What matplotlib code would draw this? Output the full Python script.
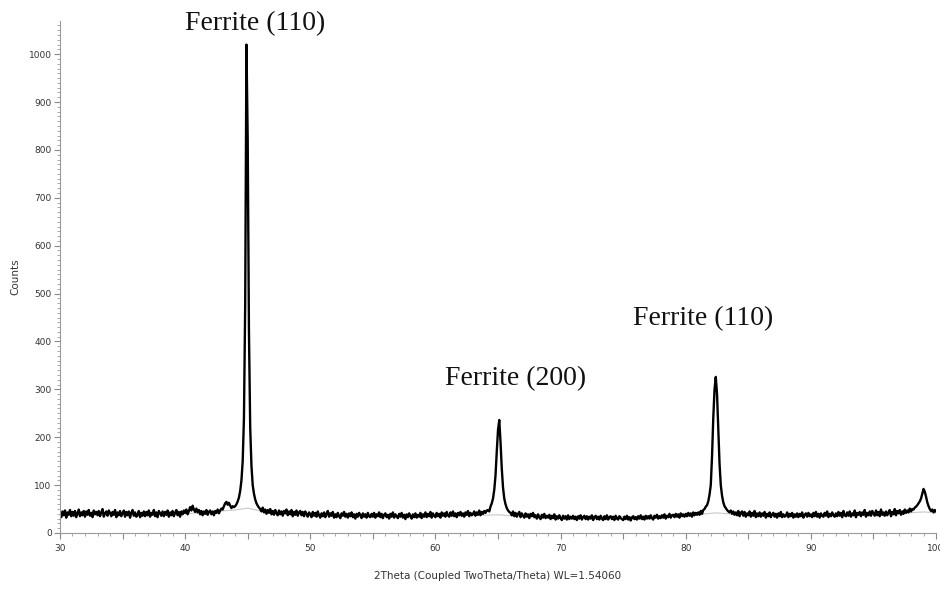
import numpy as np
import matplotlib
matplotlib.use("Agg")
import matplotlib.pyplot as plt
from matplotlib.ticker import MultipleLocator, FuncFormatter

# ---- data (2theta sampled every 0.1 deg, one row per degree) ----
two_theta_start = 30.0
two_theta_step = 0.1
counts = [
    41, 33, 45, 37, 47, 32, 43, 38, 48, 35,   # 30
    44, 36, 46, 33, 41, 49, 35, 43, 37, 46,   # 31
    34, 45, 38, 48, 36, 42, 33, 47, 39, 44,   # 32
    37, 46, 35, 43, 50, 34, 41, 45, 36, 47,   # 33
    42, 35, 44, 38, 48, 33, 43, 37, 46, 35,   # 34
    41, 47, 34, 44, 37, 45, 32, 42, 48, 36,   # 35
    43, 34, 38, 46, 33, 42, 36, 45, 35, 44,   # 36
    37, 47, 34, 42, 38, 48, 35, 43, 33, 46,   # 37
    41, 36, 45, 35, 44, 38, 47, 34, 43, 37,   # 38
    46, 35, 42, 48, 37, 44, 34, 45, 39, 47,   # 39
    42, 49, 39, 46, 54, 47, 57, 49, 44, 51,   # 40
    43, 48, 39, 46, 37, 45, 40, 48, 38, 44,   # 41
    47, 39, 45, 37, 46, 42, 49, 41, 47, 51,   # 42
    49, 56, 62, 65, 59, 63, 57, 52, 56, 54,   # 43
    56, 60, 66, 74, 88, 110, 150, 240, 480, 1020,   # 44
    820, 420, 220, 140, 100, 82, 70, 62, 57, 53,    # 45
    50, 45, 53, 43, 49, 40, 48, 42, 50, 39,   # 46
    46, 38, 48, 41, 37, 47, 39, 45, 36, 46,   # 47
    41, 49, 37, 45, 39, 48, 35, 44, 38, 47,   # 48
    36, 43, 46, 37, 44, 35, 45, 39, 34, 43,   # 49
    39, 33, 44, 36, 42, 34, 45, 37, 32, 41,   # 50
    35, 43, 33, 40, 46, 34, 41, 36, 44, 32,   # 51
    39, 33, 42, 35, 31, 41, 36, 44, 34, 40,   # 52
    32, 41, 35, 43, 33, 39, 30, 40, 34, 42,   # 53
    37, 31, 41, 34, 39, 32, 42, 35, 33, 40,   # 54
    34, 42, 32, 39, 35, 43, 33, 40, 31, 38,   # 55
    41, 33, 38, 30, 40, 34, 43, 32, 39, 35,   # 56
    31, 40, 34, 42, 32, 38, 29, 39, 33, 41,   # 57
    35, 30, 39, 33, 41, 32, 38, 34, 42, 31,   # 58
    39, 34, 43, 33, 40, 35, 44, 32, 41, 36,   # 59
    33, 42, 35, 40, 32, 43, 36, 41, 34, 44,   # 60
    37, 34, 43, 36, 45, 35, 41, 33, 42, 37,   # 61
    44, 36, 41, 34, 43, 38, 46, 35, 42, 37,   # 62
    40, 45, 36, 43, 38, 47, 37, 44, 40, 46,   # 63
    42, 47, 48, 45, 55, 62, 72, 90, 120, 170, # 64
    215, 236, 190, 135, 95, 72, 60, 52, 47, 44,  # 65
    42, 37, 45, 35, 42, 34, 40, 44, 33, 41,   # 66
    36, 32, 41, 34, 39, 31, 40, 35, 42, 33,   # 67
    37, 30, 39, 33, 29, 38, 32, 40, 31, 36,   # 68
    32, 38, 29, 36, 31, 39, 28, 35, 30, 37,   # 69
    31, 27, 36, 30, 35, 28, 37, 29, 34, 30,   # 70
    36, 29, 34, 27, 35, 30, 37, 28, 33, 36,   # 71
    29, 35, 28, 34, 30, 37, 27, 33, 36, 29,   # 72
    34, 28, 36, 30, 27, 35, 29, 37, 28, 33,   # 73
    35, 29, 34, 27, 36, 30, 28, 35, 31, 29,   # 74
    27, 34, 29, 36, 28, 33, 26, 32, 35, 29,   # 75
    33, 28, 35, 30, 37, 29, 34, 28, 36, 30,   # 76
    35, 30, 37, 31, 28, 36, 32, 38, 30, 35,   # 77
    31, 37, 32, 39, 30, 36, 33, 40, 32, 37,   # 78
    38, 33, 40, 34, 39, 32, 41, 35, 39, 34,   # 79
    40, 35, 42, 36, 41, 34, 43, 37, 42, 38,   # 80
    43, 38, 46, 40, 48, 50, 55, 58, 66, 80,   # 81
    100, 160, 240, 300, 326, 290, 215, 145, 100, 78,  # 82
    64, 56, 52, 48, 45, 43, 47, 40, 45, 38,   # 83
    43, 37, 46, 35, 42, 45, 36, 44, 34, 41,   # 84
    37, 45, 34, 42, 36, 46, 33, 41, 35, 43,   # 85
    34, 41, 36, 44, 32, 40, 35, 43, 33, 39,   # 86
    42, 34, 40, 32, 41, 35, 44, 33, 39, 34,   # 87
    36, 43, 33, 40, 35, 42, 32, 39, 34, 41,   # 88
    33, 40, 35, 43, 32, 38, 41, 34, 42, 35,   # 89
    39, 33, 42, 35, 44, 34, 40, 32, 41, 36,   # 90
    34, 42, 36, 45, 33, 40, 35, 43, 37, 34,   # 91
    41, 35, 44, 36, 42, 33, 46, 37, 35, 43,   # 92
    36, 45, 34, 41, 37, 47, 33, 42, 38, 44,   # 93
    35, 43, 38, 48, 34, 42, 37, 45, 36, 46,   # 94
    41, 36, 47, 37, 44, 35, 49, 38, 43, 36,   # 95
    45, 37, 43, 48, 35, 44, 39, 50, 37, 46,   # 96
    41, 48, 38, 45, 40, 49, 42, 47, 43, 51,   # 97
    45, 50, 49, 53, 55, 58, 62, 66, 72, 82,   # 98
    92, 86, 76, 64, 56, 50, 46, 49, 43, 48,   # 99
    45,                                       # 100
]

# fitted background (grey curve)
bg_theta = [30, 40, 44, 45, 46, 50, 60, 64, 65, 66, 70, 80, 82.4, 85, 95, 99, 100]
bg_counts = [38, 40, 48, 52, 46, 38, 35, 37, 38, 36, 33, 36, 42, 37, 38, 44, 42]

peak_labels = ["Ferrite (110)", "Ferrite (200)", "Ferrite (110)"]
label_x = [45.6, 66.4, 81.4]
label_y = [1064, 323, 448]

two_theta = two_theta_start + two_theta_step * np.arange(len(counts))

# ---- figure ----
fig = plt.figure(figsize=(9.4, 5.89), dpi=100)
ax = fig.add_axes([0.0638, 0.0951, 0.932, 0.869])

ax.plot(bg_theta, bg_counts, color="#c8c8c8", lw=0.8, zorder=1)
ax.plot(two_theta, counts, color="black", lw=1.7, zorder=2)

ax.set_xlim(30, 100)
ax.set_ylim(0, 1069)

for s in ["top", "right"]:
    ax.spines[s].set_visible(False)
for s in ["left", "bottom"]:
    ax.spines[s].set_color("#9a9a9a")
    ax.spines[s].set_linewidth(0.8)

ax.xaxis.set_major_locator(MultipleLocator(5))
ax.xaxis.set_minor_locator(MultipleLocator(1))
ax.xaxis.set_major_formatter(FuncFormatter(lambda v, p: f"{int(v)}" if int(round(v)) % 10 == 0 else ""))
ax.yaxis.set_major_locator(MultipleLocator(100))
ax.yaxis.set_minor_locator(MultipleLocator(10))

ax.tick_params(axis="both", which="major", colors="#8a8a8a", labelcolor="#333333",
               labelsize=6.5, length=4, width=0.8)
ax.tick_params(axis="both", which="minor", colors="#9a9a9a", length=2, width=0.6)
ax.tick_params(axis="x", which="major", pad=4)
ax.tick_params(axis="y", which="major", pad=2)

ax.set_ylabel("Counts", fontsize=7.5, color="#333333", labelpad=6)
ax.set_xlabel("2Theta (Coupled TwoTheta/Theta) WL=1.54060", fontsize=7.5,
              color="#333333", labelpad=13)

for txt, x, y in zip(peak_labels, label_x, label_y):
    ax.text(x, y, txt, ha="center", va="center", fontsize=20,
            family=["Liberation Serif", "DejaVu Serif"], color="#111111", clip_on=False)

fig.savefig("out.png", dpi=100)
